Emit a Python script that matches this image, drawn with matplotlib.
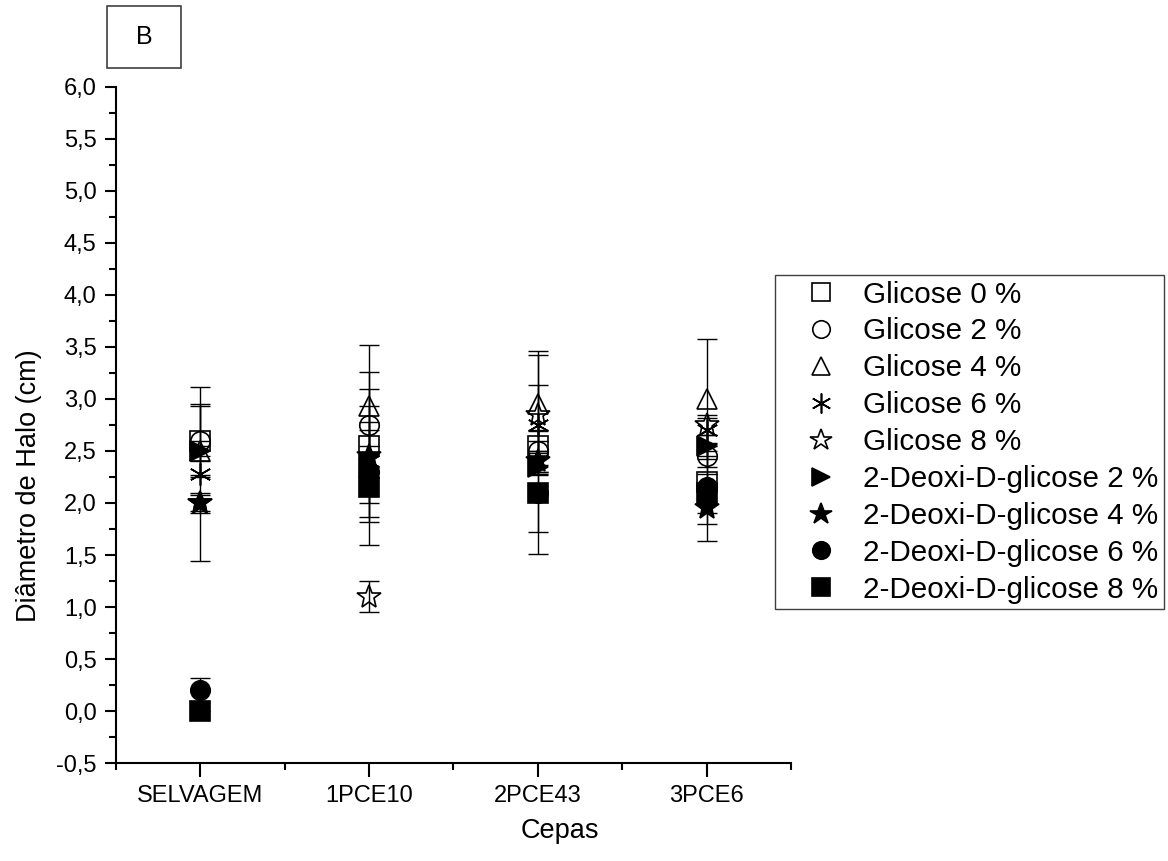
import numpy as np
import matplotlib.pyplot as plt
from matplotlib.patches import Rectangle
from matplotlib.ticker import MultipleLocator, FuncFormatter

plt.rcParams['font.family'] = ['Liberation Sans', 'DejaVu Sans']

# cepas (categorias do eixo x)
cepas = ['SELVAGEM', '1PCE10', '2PCE43', '3PCE6']

# médias e desvios (cm)
glic0 = [2.6, 2.55, 2.55, 2.2]
glic0_err = [0.35, 0.55, 0.05, 0.08]
glic2 = [2.6, 2.75, 2.5, 2.45]
glic2_err = [0.33, 0.51, 0.2, 0.1]
glic4 = [2.5, 2.93, 2.95, 3.0]
glic4_err = [0.1, 0.59, 0.51, 0.58]
glic6 = [2.28, 2.4, 2.75, 2.7]
glic6_err = [0.84, 0.53, 0.38, 0.12]
glic8 = [2.0, 1.1, 2.85, 2.75]
glic8_err = [0.1, 0.15, 0.57, 0.1]
dg2 = [2.5, 2.35, 2.35, 2.55]
dg2_err = [0.05, 0.1, 0.08, 0.1]
dg4 = [2.0, 2.45, 2.4, 1.95]
dg4_err = [0.08, 0.1, 0.1, 0.05]
dg6 = [0.2, 2.3, 2.1, 2.15]
dg6_err = [0.12, 0.48, 0.38, 0.35]
dg8 = [0.0, 2.15, 2.1, 2.1]
dg8_err = [0.0, 0.55, 0.59, 0.47]

series = [
    ('Glicose 0 %', glic0, glic0_err, 's', 'none', 14),
    ('Glicose 2 %', glic2, glic2_err, 'o', 'none', 14),
    ('Glicose 4 %', glic4, glic4_err, '^', 'none', 15),
    ('Glicose 6 %', glic6, glic6_err, (6, 2, 0), 'none', 16),
    ('Glicose 8 %', glic8, glic8_err, '*', 'none', 18),
    ('2-Deoxi-D-glicose 2 %', dg2, dg2_err, '>', 'black', 15),
    ('2-Deoxi-D-glicose 4 %', dg4, dg4_err, '*', 'black', 18),
    ('2-Deoxi-D-glicose 6 %', dg6, dg6_err, 'o', 'black', 14),
    ('2-Deoxi-D-glicose 8 %', dg8, dg8_err, 's', 'black', 15),
]

fig = plt.figure(figsize=(11.68, 8.61), dpi=100)
ax = fig.add_axes([0.0993, 0.1138, 0.5779, 0.7852])

x = np.arange(1, len(cepas) + 1)
for label, y, err, mk, fc, ms in series:
    ax.errorbar(x, y, yerr=err, fmt='none', ecolor='black', elinewidth=1,
                capsize=7, capthick=1, zorder=2)
    ax.plot(x, y, linestyle='none', marker=mk, markersize=ms,
            markerfacecolor=fc, markeredgecolor='black', markeredgewidth=1.2,
            label=label, zorder=3)

ax.set_xlim(0.5, 4.5)
ax.set_ylim(-0.5, 6.0)
ax.set_xticks(x)
ax.set_xticklabels(cepas)
ax.xaxis.set_minor_locator(MultipleLocator(0.5))
ax.yaxis.set_major_locator(MultipleLocator(0.5))
ax.yaxis.set_minor_locator(MultipleLocator(0.25))
ax.yaxis.set_major_formatter(FuncFormatter(lambda v, p: f'{v:.1f}'.replace('.', ',')))

ax.spines['top'].set_visible(False)
ax.spines['right'].set_visible(False)
ax.spines['left'].set_linewidth(1.5)
ax.spines['bottom'].set_linewidth(1.5)
ax.tick_params(axis='both', which='major', direction='out', width=1.5, labelsize=17, pad=6)
ax.tick_params(axis='x', which='major', length=10)
ax.tick_params(axis='y', which='major', length=8)
ax.tick_params(axis='both', which='minor', direction='out', width=1.5, length=5)

ax.set_ylabel('Diâmetro de Halo (cm)', fontsize=19.5)
ax.yaxis.set_label_coords(-0.109, 0.41)
ax.set_xlabel('Cepas', fontsize=19.5)
ax.xaxis.set_label_coords(0.658, -0.081)

leg = ax.legend(loc='upper left', bbox_to_anchor=(775 / 1168, 1 - 275 / 861),
                bbox_transform=fig.transFigure, borderaxespad=0, fontsize=21.3,
                frameon=True, fancybox=False, edgecolor='#404040', framealpha=1,
                markerscale=0.9, handlelength=2.74, handletextpad=0.05,
                labelspacing=0.3, borderpad=0.19)
leg.get_frame().set_linewidth(1)

# caixa "B"
fig.patches.append(Rectangle((107 / 1168, 1 - 68 / 861), 74 / 1168, 62 / 861,
                             transform=fig.transFigure, facecolor='white',
                             edgecolor='#404040', linewidth=1.2))
fig.text(144 / 1168, 1 - 37 / 861, 'B', fontsize=18, ha='center', va='center')

fig.savefig('out.png', dpi=100)
